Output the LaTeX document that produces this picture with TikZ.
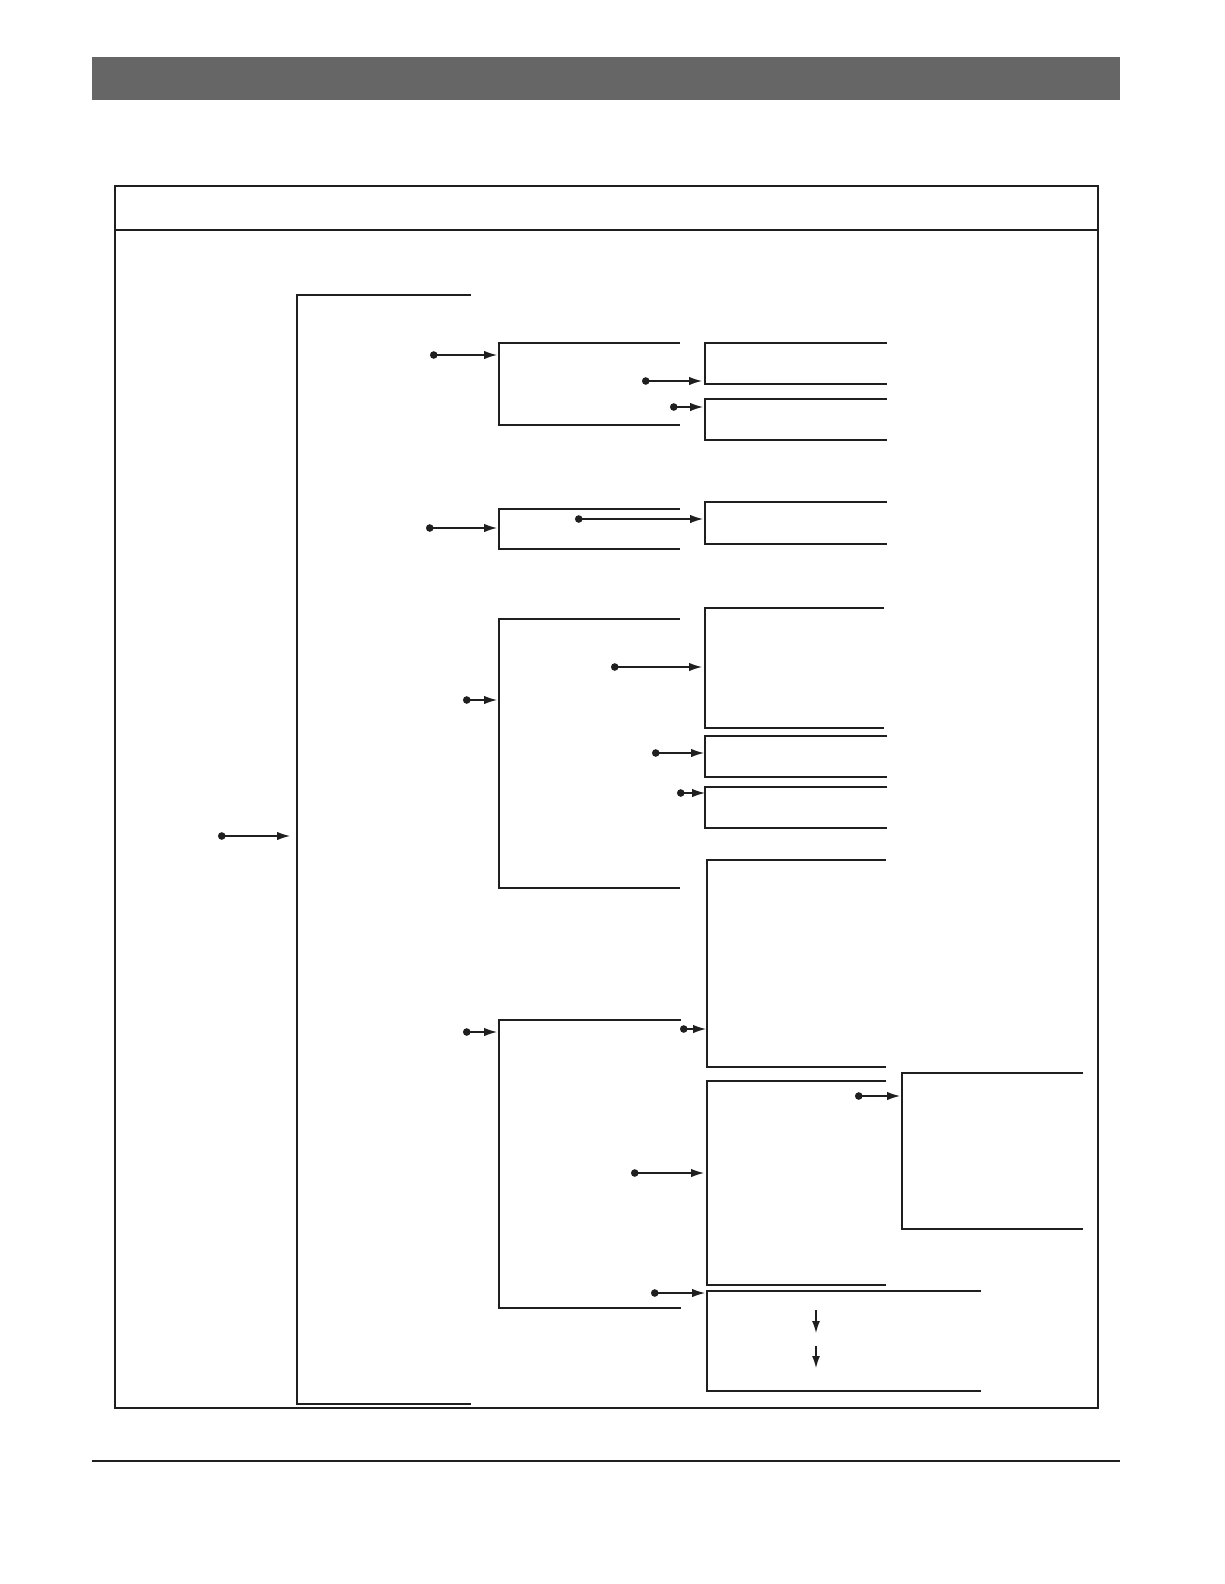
\documentclass[tikz,border=0pt]{standalone}
\usetikzlibrary{arrows.meta}
\begin{document}
\begin{tikzpicture}[x=1pt, y=-1pt,
        rule/.style={line width=1.5pt, black!88},
        flow/.style={line width=1.3pt, black!88,
            {Circle[length=7.5pt]}-{Latex[length=13pt,width=8.5pt]}},
        drop/.style={line width=1.3pt, black!88,
            -{Latex[length=12pt,width=8pt]}}]
    \useasboundingbox (0,0) rectangle (1224,1584);
    % header bar, frame and footer rule
    \fill[black!60] (92,57) rectangle (1120,100);
    \draw[rule] (115,186) rectangle (1098,1408)
        (115,230)--(1098,230);
    \draw[rule] (92,1461)--(1120,1461);
    % brackets: left x / top y / bottom y / right end / width
    \foreach \x/\t/\b/\e/\w in {297/295/1404/471/2,
            499/343/425/680/1.5, 499/509/549/680/1.8,
            499/619/888/680/1.6, 499/1020/1308/681/1.6,
            705/343/384/887/1.8, 705/399/440/887/1.8,
            705/502/544/887/1.6, 705/608/728/884/1.6,
            705/736/777/887/1.8, 705/787/828/887/1.8,
            707/860/1067/886/2, 707/1081/1285/886/1.7,
            707/1291/1391/981/1.8, 902/1073/1229/1083/2}
        \draw[rule, line width=\w pt] (\e,\t)--(\x,\t)--(\x,\b)--(\e,\b);
    % links: dot x / tip x / y
    \foreach \a/\z/\y [count=\i] in {218/290/836,
            430/497/355, 426/497/528, 463/497/700, 463/497/1032,
            642/702/381, 670/703/407, 575/703/519, 611/702/667,
            652/704/753, 677/705/793, 680/706/1029, 631/704/1173,
            651/705/1293, 855/900/1096} {
        \coordinate (dot\i) at (\a,\y);
        \coordinate (tip\i) at (\z,\y);
        \draw[flow] (dot\i)--(tip\i);
    }
    % steps inside the last bracket
    \coordinate (stepa) at (816,1310);
    \coordinate (stepb) at (816,1333);
    \coordinate (stepc) at (816,1346);
    \coordinate (stepd) at (816,1368);
    \draw[drop] (stepa)--(stepb);
    \draw[drop] (stepc)--(stepd);
\end{tikzpicture}
\end{document}
